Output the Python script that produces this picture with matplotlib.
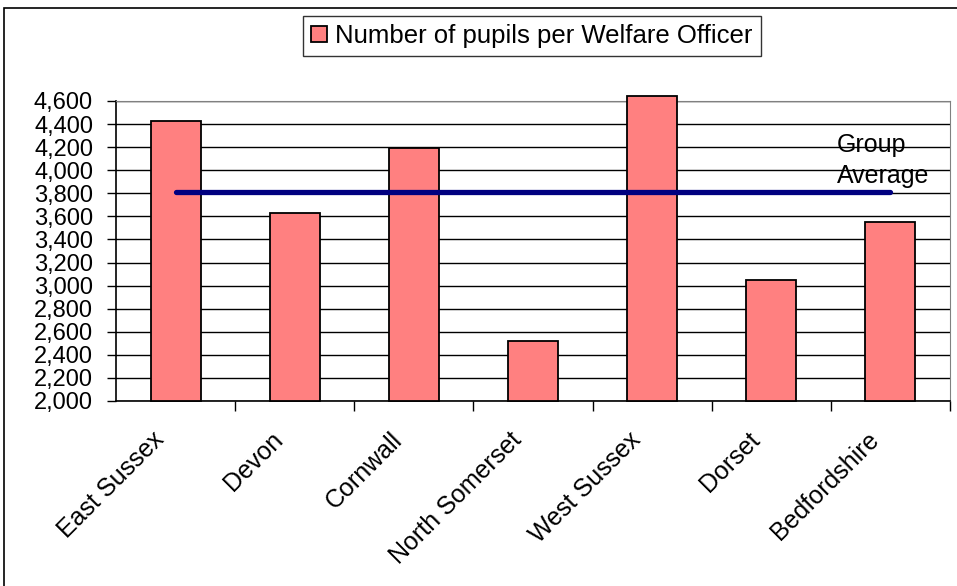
import matplotlib.pyplot as plt
from matplotlib.patches import Rectangle
from matplotlib.ticker import FuncFormatter, MultipleLocator
from matplotlib.transforms import ScaledTranslation

# data
counties = ['East Sussex', 'Devon', 'Cornwall', 'North Somerset',
            'West Sussex', 'Dorset', 'Bedfordshire']
pupils_per_officer = [4430, 3630, 4190, 2520, 4640, 3050, 3550]
group_average = 3810
y_min, y_max = 2000, 4600

plt.rcParams['font.family'] = ['Liberation Sans', 'DejaVu Sans']

fig = plt.figure(figsize=(9.57, 5.86), dpi=100)
ax = fig.add_axes([116 / 957, 1 - 401 / 586, 834 / 957, 300 / 586])

x = list(range(len(counties)))
heights = [v - y_min for v in pupils_per_officer]
ax.bar(x, heights, bottom=y_min, width=0.42, color='#FF8080',
       edgecolor='black', linewidth=1.3, zorder=3, clip_on=False,
       label='Number of pupils per Welfare Officer')

# group average line from first to last category
ax.plot([x[0], x[-1]], [group_average, group_average], color='#000080',
        linewidth=3.8, solid_capstyle='round', zorder=4)
ax.text(5.55, 4158, 'Group', fontsize=18, ha='left', va='baseline', zorder=5)
ax.text(5.55, 3889, 'Average', fontsize=18, ha='left', va='baseline', zorder=5)

ax.set_xlim(-0.5, len(counties) - 0.5)
ax.set_ylim(y_min, y_max)
ax.yaxis.set_major_locator(MultipleLocator(200))
ax.yaxis.set_major_formatter(FuncFormatter(lambda v, p: f'{int(v):,}'))
ax.grid(axis='y', color='black', linewidth=1.0, zorder=0)

ax.set_xticks(x)
ax.set_xticklabels(counties, rotation=45, ha='right', va='top',
                   rotation_mode='anchor', fontsize=18)
ax.tick_params(axis='x', length=0, pad=19)
shift = ScaledTranslation(-24 / 100, 0, fig.dpi_scale_trans)
for lbl in ax.get_xticklabels():
    lbl.set_transform(lbl.get_transform() + shift)
ax.set_xticks([i + 0.5 for i in x], minor=True)
ax.tick_params(axis='x', which='minor', length=7, width=1, color='black')
ax.tick_params(axis='y', length=6.5, width=1, labelsize=17, pad=10)

for side in ['top', 'right']:
    ax.spines[side].set_color('#808080')
for side in ['left', 'bottom']:
    ax.spines[side].set_color('black')
    ax.spines[side].set_linewidth(1.2)

leg = fig.legend(loc='center', bbox_to_anchor=(532 / 957, 1 - 36 / 586),
                 fontsize=18.5, frameon=True, fancybox=False,
                 handlelength=0.62, handleheight=0.62, handletextpad=0.3,
                 borderpad=0.32)
leg.get_frame().set_edgecolor('black')
leg.get_frame().set_linewidth(1.0)

# outer chart border
fig.patches.append(Rectangle((4 / 957, -0.1), 1.2, 1.1 - 8 / 586,
                             transform=fig.transFigure, fill=False,
                             edgecolor='black', linewidth=1.2))

fig.savefig('out.png', dpi=100)
